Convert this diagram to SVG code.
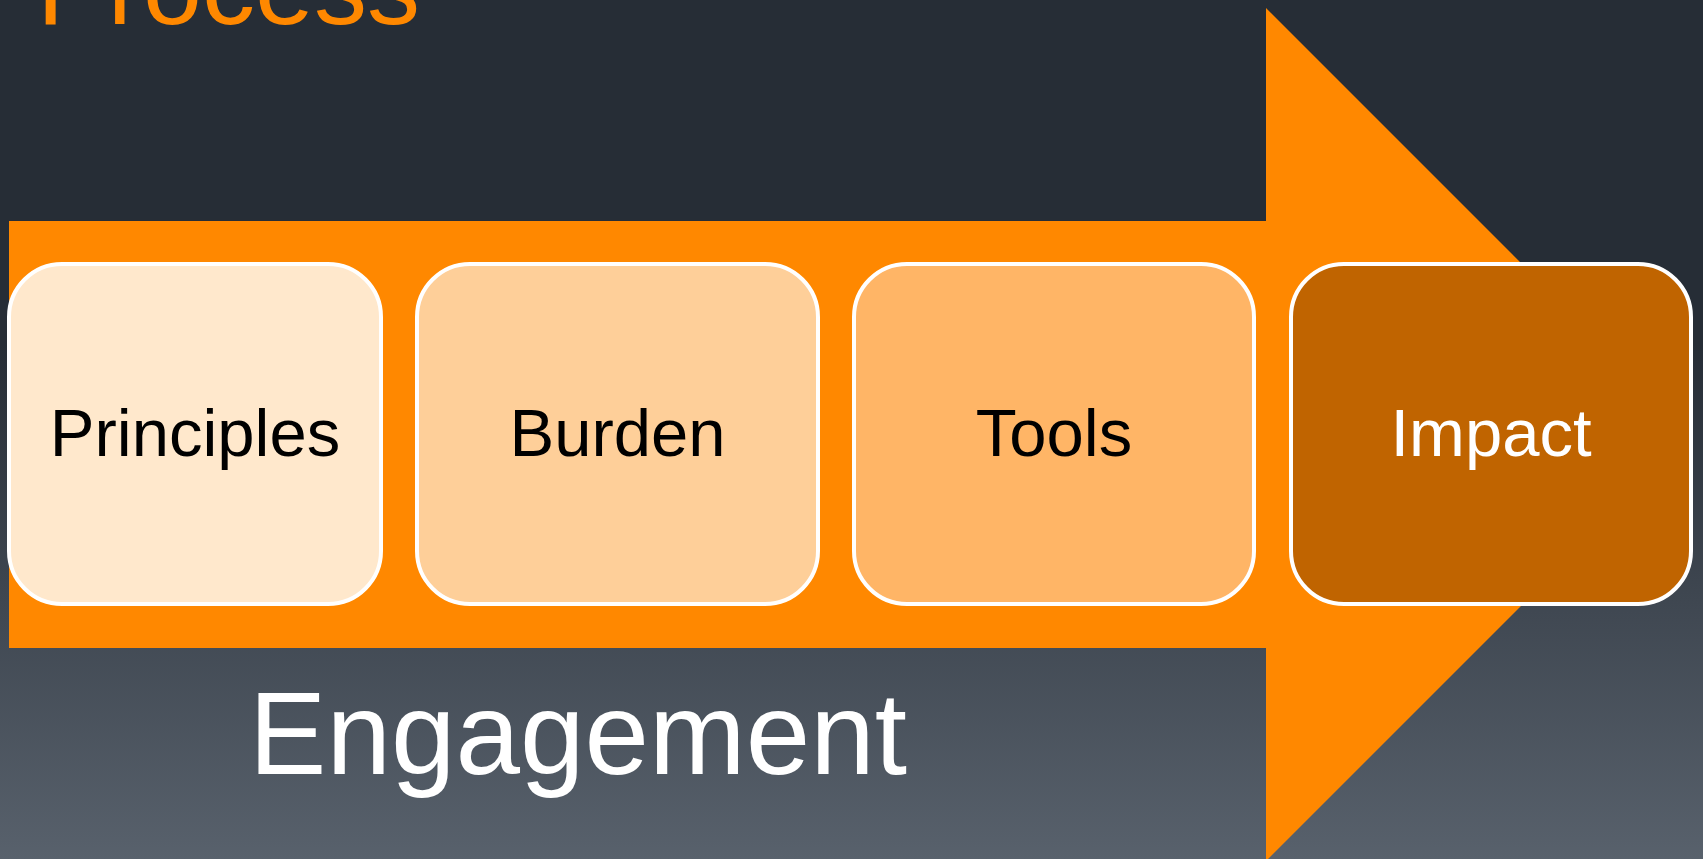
<svg xmlns="http://www.w3.org/2000/svg" width="1703" height="859" viewBox="0 0 1703 859">
  <defs>
    <linearGradient id="bg" x1="0" y1="0" x2="0" y2="1">
      <stop offset="0" stop-color="#262d36"/>
      <stop offset="0.4" stop-color="#262d36"/>
      <stop offset="1" stop-color="#58616c"/>
    </linearGradient>
  </defs>
  <style>
    .box { stroke: #ffffff; stroke-width: 4; }
    .lbl { font-family: "Liberation Sans", Arial, sans-serif; font-size: 67px; text-anchor: middle; }
  </style>
  <rect x="0" y="0" width="1703" height="859" fill="url(#bg)"/>
  <text x="37" y="23.5" font-family="Liberation Sans, Arial, sans-serif" font-size="106" fill="#ff8800">Process</text>
  <g id="arrow">
    <polygon points="9,221 1266,221 1266,8 1692.5,434.5 1266,861 1266,648 9,648" fill="#ff8800"/>
  </g>
  <g id="principles">
    <rect class="box" x="9" y="264" width="372" height="340" rx="53" fill="#ffe8cc"/>
    <text class="lbl" x="195" y="456" fill="#000000">Principles</text>
  </g>
  <g id="burden">
    <rect class="box" x="417" y="264" width="401" height="340" rx="53" fill="#fecf99"/>
    <text class="lbl" x="617.5" y="456" fill="#000000">Burden</text>
  </g>
  <g id="tools">
    <rect class="box" x="854" y="264" width="400" height="340" rx="53" fill="#ffb566"/>
    <text class="lbl" x="1054" y="456" fill="#000000">Tools</text>
  </g>
  <g id="impact">
    <rect class="box" x="1291" y="264" width="400" height="340" rx="53" fill="#c06400"/>
    <text class="lbl" x="1491" y="456" fill="#ffffff">Impact</text>
  </g>
  <g id="connectors"></g>
  <text x="578" y="774" font-family="Liberation Sans, Arial, sans-serif" font-size="116" fill="#ffffff" text-anchor="middle">Engagement</text>
</svg>
